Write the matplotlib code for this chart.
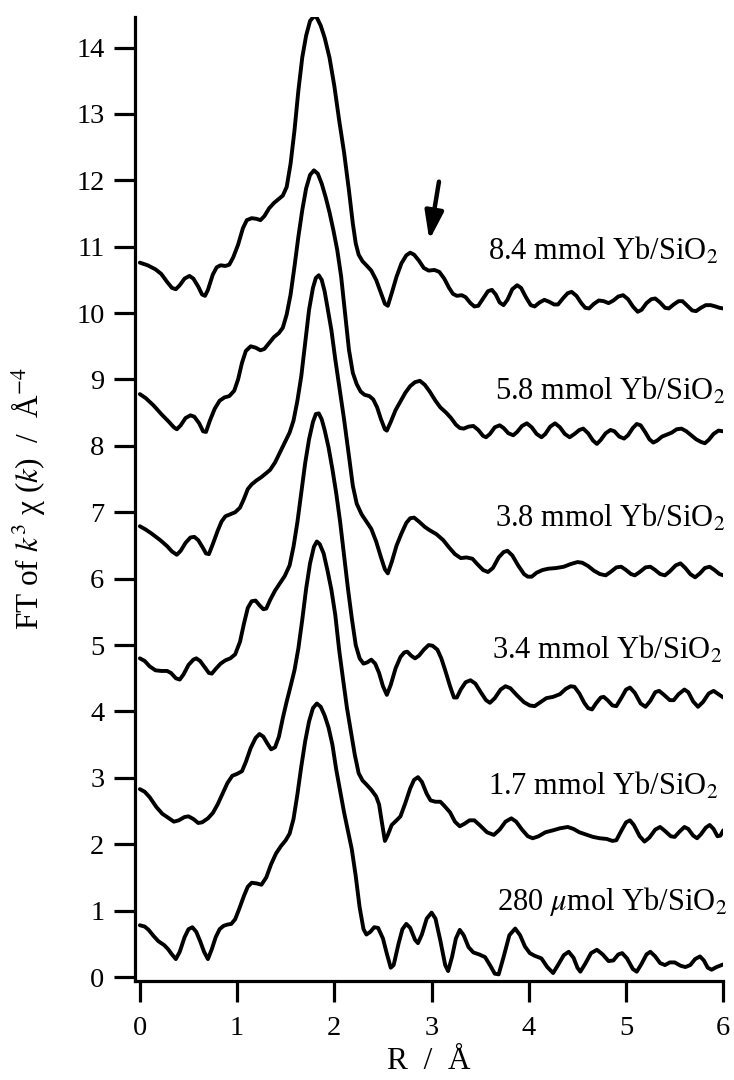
import matplotlib
matplotlib.use("Agg")
import matplotlib.pyplot as plt

plt.rcParams["font.family"] = ["Liberation Serif", "DejaVu Serif"]
plt.rcParams["mathtext.fontset"] = "stix"

# R / Å and FT magnitude (curves already offset)
r_84 = [0, 0.08, 0.16, 0.22, 0.28, 0.33, 0.37, 0.41, 0.46, 0.51, 0.55, 0.60, 0.64, 0.67, 0.70,
        0.75, 0.79, 0.83, 0.88, 0.92, 0.96, 1.01, 1.06, 1.10, 1.15, 1.20, 1.24, 1.28, 1.33,
        1.38, 1.43, 1.47, 1.51, 1.55, 1.59, 1.63, 1.67, 1.71, 1.75, 1.79, 1.82, 1.86, 1.90,
        1.95, 2.00, 2.05, 2.10, 2.15, 2.19, 2.22, 2.25, 2.29, 2.33, 2.38, 2.43, 2.48, 2.52,
        2.55, 2.59, 2.64, 2.69, 2.74, 2.78, 2.82, 2.87, 2.92, 2.97, 3.03, 3.08, 3.13, 3.18,
        3.22, 3.26, 3.31, 3.35, 3.40, 3.44, 3.48, 3.53, 3.58, 3.62, 3.66, 3.70, 3.74, 3.78,
        3.83, 3.88, 3.92, 3.97, 4.02, 4.06, 4.11, 4.16, 4.21, 4.26, 4.30, 4.35, 4.40, 4.44,
        4.49, 4.54, 4.58, 4.62, 4.67, 4.72, 4.77, 4.82, 4.87, 4.92, 4.97, 5.02, 5.07, 5.12,
        5.16, 5.21, 5.26, 5.30, 5.35, 5.40, 5.44, 5.49, 5.54, 5.58, 5.63, 5.68, 5.72, 5.77,
        5.82, 5.87, 5.92, 5.96, 6.00]
ft_84 = [10.76, 10.72, 10.66, 10.59, 10.47, 10.38, 10.36, 10.42, 10.52, 10.56, 10.52, 10.40,
         10.28, 10.26, 10.35, 10.58, 10.69, 10.72, 10.71, 10.73, 10.84, 11.03, 11.28, 11.40,
         11.43, 11.42, 11.40, 11.46, 11.58, 11.66, 11.72, 11.77, 11.90, 12.25, 12.75, 13.35,
         13.85, 14.18, 14.40, 14.47, 14.45, 14.33, 14.15, 13.85, 13.42, 12.90, 12.42, 11.85,
         11.35, 11.05, 10.88, 10.78, 10.72, 10.64, 10.50, 10.30, 10.14, 10.11, 10.30, 10.55,
         10.75, 10.87, 10.91, 10.88, 10.79, 10.68, 10.64, 10.65, 10.62, 10.52, 10.38, 10.29,
         10.26, 10.27, 10.24, 10.15, 10.10, 10.11, 10.22, 10.33, 10.35, 10.28, 10.16, 10.12,
         10.20, 10.36, 10.42, 10.38, 10.24, 10.12, 10.10, 10.16, 10.20, 10.17, 10.13, 10.13,
         10.22, 10.30, 10.32, 10.26, 10.15, 10.08, 10.07, 10.14, 10.19, 10.18, 10.15, 10.19,
         10.25, 10.27, 10.21, 10.10, 10.02, 10.05, 10.15, 10.21, 10.22, 10.16, 10.08, 10.07,
         10.13, 10.18, 10.18, 10.11, 10.04, 10.03, 10.08, 10.12, 10.12, 10.10, 10.08, 10.07]

r_58 = [0, 0.06, 0.14, 0.22, 0.30, 0.35, 0.38, 0.42, 0.47, 0.52, 0.56, 0.61, 0.65, 0.68, 0.72,
        0.77, 0.82, 0.87, 0.92, 0.97, 1.01, 1.05, 1.09, 1.14, 1.19, 1.24, 1.28, 1.33, 1.38,
        1.43, 1.47, 1.51, 1.55, 1.59, 1.63, 1.67, 1.71, 1.75, 1.79, 1.83, 1.87, 1.91, 1.95,
        1.99, 2.03, 2.07, 2.11, 2.15, 2.19, 2.23, 2.27, 2.31, 2.36, 2.40, 2.44, 2.48, 2.52,
        2.54, 2.58, 2.63, 2.68, 2.73, 2.78, 2.83, 2.88, 2.93, 2.98, 3.04, 3.09, 3.15, 3.20,
        3.25, 3.29, 3.33, 3.38, 3.43, 3.48, 3.53, 3.56, 3.60, 3.65, 3.70, 3.74, 3.79, 3.84,
        3.88, 3.93, 3.98, 4.03, 4.08, 4.13, 4.17, 4.22, 4.27, 4.32, 4.37, 4.42, 4.47, 4.52,
        4.56, 4.61, 4.66, 4.70, 4.74, 4.79, 4.84, 4.88, 4.93, 4.98, 5.02, 5.07, 5.11, 5.15,
        5.20, 5.24, 5.28, 5.32, 5.37, 5.42, 5.47, 5.52, 5.57, 5.62, 5.67, 5.72, 5.77, 5.81,
        5.85, 5.90, 5.95, 6.00]
ft_58 = [8.78, 8.72, 8.61, 8.48, 8.36, 8.28, 8.25, 8.31, 8.42, 8.46, 8.44, 8.34, 8.22, 8.21,
         8.38, 8.56, 8.68, 8.73, 8.75, 8.83, 9.00, 9.25, 9.43, 9.50, 9.48, 9.44, 9.46, 9.55,
         9.64, 9.70, 9.78, 9.98, 10.28, 10.70, 11.15, 11.55, 11.88, 12.08, 12.15, 12.10, 11.95,
         11.75, 11.52, 11.25, 10.95, 10.55, 10.00, 9.45, 9.10, 8.93, 8.82, 8.77, 8.75, 8.70,
         8.58, 8.40, 8.25, 8.23, 8.36, 8.54, 8.67, 8.80, 8.90, 8.96, 8.98, 8.92, 8.82, 8.68,
         8.58, 8.50, 8.42, 8.32, 8.27, 8.26, 8.29, 8.30, 8.24, 8.15, 8.13, 8.18, 8.28, 8.31,
         8.27, 8.19, 8.16, 8.21, 8.30, 8.34, 8.28, 8.18, 8.13, 8.18, 8.29, 8.34, 8.28, 8.18,
         8.13, 8.18, 8.24, 8.26, 8.19, 8.08, 8.03, 8.09, 8.19, 8.24, 8.22, 8.14, 8.11, 8.16,
         8.27, 8.33, 8.31, 8.20, 8.10, 8.05, 8.08, 8.14, 8.17, 8.20, 8.25, 8.26, 8.22, 8.16,
         8.10, 8.06, 8.04, 8.09, 8.18, 8.23, 8.22]

r_38 = [0, 0.06, 0.12, 0.21, 0.28, 0.33, 0.38, 0.42, 0.47, 0.52, 0.56, 0.60, 0.65, 0.68, 0.71,
        0.75, 0.80, 0.84, 0.88, 0.93, 0.98, 1.03, 1.07, 1.11, 1.15, 1.20, 1.25, 1.30, 1.34,
        1.39, 1.44, 1.49, 1.54, 1.58, 1.62, 1.66, 1.70, 1.74, 1.78, 1.81, 1.84, 1.87, 1.90,
        1.93, 1.97, 2.01, 2.05, 2.10, 2.15, 2.19, 2.23, 2.28, 2.33, 2.38, 2.43, 2.48, 2.52,
        2.55, 2.59, 2.64, 2.69, 2.74, 2.78, 2.82, 2.87, 2.93, 2.98, 3.05, 3.12, 3.18, 3.24,
        3.30, 3.36, 3.42, 3.47, 3.53, 3.58, 3.63, 3.69, 3.74, 3.78, 3.83, 3.89, 3.95, 3.99,
        4.03, 4.08, 4.14, 4.20, 4.28, 4.36, 4.43, 4.50, 4.55, 4.61, 4.67, 4.73, 4.79, 4.84,
        4.90, 4.95, 5.00, 5.05, 5.09, 5.14, 5.20, 5.25, 5.30, 5.35, 5.40, 5.45, 5.51, 5.56,
        5.61, 5.66, 5.71, 5.76, 5.81, 5.86, 5.91, 5.96, 6.00]
ft_38 = [6.79, 6.74, 6.68, 6.58, 6.49, 6.41, 6.36, 6.42, 6.54, 6.62, 6.63, 6.58, 6.46, 6.38,
         6.37, 6.52, 6.72, 6.86, 6.94, 6.97, 7.00, 7.07, 7.20, 7.35, 7.42, 7.48, 7.53, 7.59,
         7.64, 7.75, 7.90, 8.05, 8.20, 8.38, 8.68, 9.05, 9.55, 10.05, 10.38, 10.53, 10.57,
         10.50, 10.33, 10.08, 9.74, 9.30, 8.90, 8.40, 7.85, 7.40, 7.13, 6.97, 6.86, 6.75, 6.56,
         6.32, 6.14, 6.08, 6.25, 6.50, 6.68, 6.84, 6.91, 6.92, 6.86, 6.78, 6.73, 6.67, 6.58,
         6.47, 6.37, 6.31, 6.32, 6.30, 6.22, 6.13, 6.10, 6.16, 6.32, 6.40, 6.42, 6.35, 6.20,
         6.07, 6.03, 6.03, 6.09, 6.13, 6.15, 6.16, 6.18, 6.22, 6.25, 6.24, 6.19, 6.12, 6.07,
         6.05, 6.10, 6.17, 6.18, 6.13, 6.07, 6.05, 6.10, 6.17, 6.18, 6.13, 6.07, 6.05, 6.11,
         6.20, 6.23, 6.16, 6.07, 6.02, 6.08, 6.16, 6.18, 6.13, 6.07, 6.05]

r_34 = [0, 0.05, 0.10, 0.16, 0.22, 0.28, 0.32, 0.37, 0.41, 0.45, 0.50, 0.55, 0.58, 0.62, 0.67,
        0.71, 0.74, 0.78, 0.83, 0.88, 0.93, 0.98, 1.03, 1.07, 1.11, 1.15, 1.19, 1.23, 1.27,
        1.30, 1.34, 1.39, 1.44, 1.49, 1.54, 1.58, 1.62, 1.66, 1.70, 1.74, 1.78, 1.81, 1.84,
        1.87, 1.90, 1.94, 1.98, 2.02, 2.06, 2.10, 2.14, 2.18, 2.22, 2.26, 2.30, 2.34, 2.38,
        2.42, 2.46, 2.50, 2.54, 2.58, 2.63, 2.68, 2.72, 2.75, 2.79, 2.83, 2.87, 2.92, 2.97,
        3.01, 3.06, 3.10, 3.14, 3.19, 3.23, 3.26, 3.30, 3.35, 3.40, 3.45, 3.51, 3.56, 3.60,
        3.65, 3.71, 3.76, 3.81, 3.88, 3.95, 4.01, 4.06, 4.12, 4.18, 4.25, 4.32, 4.38, 4.43,
        4.47, 4.52, 4.57, 4.61, 4.65, 4.69, 4.74, 4.77, 4.81, 4.86, 4.90, 4.95, 5.00, 5.04,
        5.09, 5.15, 5.20, 5.25, 5.30, 5.34, 5.39, 5.45, 5.49, 5.54, 5.60, 5.64, 5.69, 5.74,
        5.79, 5.85, 5.90, 5.95, 6.00]
ft_34 = [4.80, 4.76, 4.68, 4.62, 4.61, 4.61, 4.58, 4.50, 4.48, 4.56, 4.70, 4.78, 4.80, 4.76,
         4.66, 4.58, 4.57, 4.64, 4.72, 4.77, 4.80, 4.86, 5.05, 5.32, 5.56, 5.66, 5.67, 5.60,
         5.54, 5.55, 5.68, 5.82, 5.93, 6.04, 6.20, 6.48, 6.85, 7.30, 7.74, 8.10, 8.36, 8.48,
         8.49, 8.40, 8.24, 7.98, 7.65, 7.28, 6.85, 6.35, 5.85, 5.40, 5.00, 4.80, 4.72, 4.74,
         4.78, 4.72, 4.58, 4.38, 4.25, 4.40, 4.65, 4.82, 4.89, 4.90, 4.84, 4.80, 4.84, 4.93,
         5.00, 4.99, 4.93, 4.80, 4.62, 4.38, 4.21, 4.21, 4.33, 4.44, 4.47, 4.42, 4.28, 4.17,
         4.13, 4.20, 4.33, 4.38, 4.35, 4.24, 4.14, 4.09, 4.08, 4.14, 4.20, 4.22, 4.26, 4.34,
         4.38, 4.37, 4.27, 4.13, 4.05, 4.03, 4.12, 4.21, 4.22, 4.17, 4.09, 4.08, 4.20, 4.33,
         4.36, 4.28, 4.12, 4.07, 4.16, 4.29, 4.31, 4.25, 4.17, 4.17, 4.26, 4.33, 4.29, 4.15,
         4.07, 4.14, 4.27, 4.31, 4.26, 4.21]

r_17 = [0, 0.05, 0.10, 0.17, 0.23, 0.29, 0.35, 0.40, 0.46, 0.50, 0.55, 0.60, 0.64, 0.70, 0.75,
        0.80, 0.85, 0.90, 0.95, 1.00, 1.05, 1.09, 1.14, 1.19, 1.23, 1.27, 1.31, 1.35, 1.39,
        1.43, 1.47, 1.51, 1.55, 1.59, 1.63, 1.67, 1.71, 1.75, 1.79, 1.82, 1.85, 1.89, 1.93,
        1.97, 2.01, 2.05, 2.09, 2.13, 2.17, 2.21, 2.25, 2.29, 2.33, 2.38, 2.43, 2.46, 2.49,
        2.52, 2.55, 2.59, 2.64, 2.68, 2.73, 2.78, 2.82, 2.86, 2.90, 2.95, 2.99, 3.04, 3.09,
        3.13, 3.19, 3.24, 3.29, 3.34, 3.39, 3.44, 3.50, 3.57, 3.64, 3.70, 3.76, 3.82, 3.87,
        3.93, 3.99, 4.04, 4.10, 4.17, 4.25, 4.32, 4.40, 4.46, 4.52, 4.58, 4.66, 4.73, 4.80,
        4.86, 4.90, 4.95, 5.00, 5.04, 5.08, 5.14, 5.19, 5.24, 5.30, 5.35, 5.40, 5.46, 5.50,
        5.55, 5.60, 5.64, 5.69, 5.73, 5.77, 5.82, 5.86, 5.90, 5.94, 5.97, 6.00]
ft_17 = [2.83, 2.79, 2.71, 2.56, 2.46, 2.40, 2.34, 2.36, 2.41, 2.42, 2.38, 2.32, 2.33, 2.39,
         2.47, 2.60, 2.76, 2.92, 3.03, 3.06, 3.10, 3.24, 3.45, 3.60, 3.66, 3.62, 3.52, 3.43,
         3.46, 3.62, 3.90, 4.15, 4.38, 4.62, 4.95, 5.38, 5.85, 6.23, 6.48, 6.56, 6.52, 6.38,
         6.12, 5.83, 5.45, 4.92, 4.48, 4.05, 3.70, 3.35, 3.07, 2.96, 2.90, 2.82, 2.72, 2.60,
         2.32, 2.05, 2.14, 2.29, 2.36, 2.42, 2.62, 2.84, 2.97, 3.01, 2.94, 2.76, 2.66, 2.64,
         2.64, 2.58, 2.48, 2.34, 2.27, 2.31, 2.36, 2.36, 2.28, 2.18, 2.14, 2.22, 2.34, 2.39,
         2.34, 2.22, 2.12, 2.09, 2.12, 2.18, 2.21, 2.24, 2.26, 2.23, 2.18, 2.15, 2.11, 2.09,
         2.08, 2.05, 2.06, 2.20, 2.33, 2.36, 2.29, 2.12, 2.04, 2.10, 2.22, 2.26, 2.20, 2.12,
         2.11, 2.19, 2.26, 2.23, 2.13, 2.09, 2.15, 2.25, 2.29, 2.23, 2.12, 2.13, 2.21]

r_028 = [0, 0.05, 0.09, 0.14, 0.19, 0.25, 0.29, 0.33, 0.37, 0.41, 0.46, 0.50, 0.54, 0.58, 0.62,
         0.66, 0.70, 0.74, 0.78, 0.82, 0.86, 0.90, 0.94, 0.98, 1.02, 1.07, 1.11, 1.15, 1.20,
         1.25, 1.30, 1.35, 1.40, 1.45, 1.50, 1.54, 1.58, 1.62, 1.66, 1.70, 1.74, 1.78, 1.82,
         1.86, 1.90, 1.94, 1.98, 2.02, 2.06, 2.10, 2.14, 2.18, 2.22, 2.26, 2.30, 2.33, 2.37,
         2.41, 2.45, 2.50, 2.54, 2.58, 2.61, 2.66, 2.70, 2.74, 2.78, 2.83, 2.86, 2.90, 2.95,
         3.00, 3.04, 3.09, 3.14, 3.17, 3.21, 3.25, 3.29, 3.33, 3.38, 3.43, 3.49, 3.55, 3.60,
         3.65, 3.69, 3.74, 3.80, 3.86, 3.91, 3.96, 4.01, 4.06, 4.13, 4.19, 4.25, 4.30, 4.36,
         4.41, 4.46, 4.50, 4.53, 4.58, 4.64, 4.70, 4.76, 4.82, 4.87, 4.92, 4.96, 5.01, 5.07,
         5.11, 5.16, 5.21, 5.25, 5.30, 5.35, 5.40, 5.45, 5.50, 5.56, 5.61, 5.66, 5.71, 5.76,
         5.80, 5.84, 5.88, 5.93, 6.00]
ft_028 = [0.78, 0.76, 0.71, 0.62, 0.54, 0.48, 0.42, 0.34, 0.27, 0.38, 0.60, 0.72, 0.75, 0.68,
          0.54, 0.38, 0.27, 0.42, 0.60, 0.72, 0.77, 0.79, 0.80, 0.87, 1.02, 1.22, 1.36, 1.42,
          1.41, 1.39, 1.50, 1.70, 1.86, 1.97, 2.06, 2.16, 2.38, 2.75, 3.17, 3.55, 3.85, 4.05,
          4.12, 4.07, 3.94, 3.76, 3.50, 3.12, 2.80, 2.48, 2.20, 1.92, 1.52, 1.05, 0.72, 0.64,
          0.68, 0.75, 0.74, 0.58, 0.35, 0.14, 0.18, 0.50, 0.72, 0.80, 0.74, 0.56, 0.51, 0.64,
          0.88, 0.97, 0.88, 0.55, 0.18, 0.09, 0.30, 0.58, 0.71, 0.63, 0.45, 0.37, 0.34, 0.30,
          0.18, 0.05, 0.04, 0.30, 0.63, 0.73, 0.63, 0.46, 0.36, 0.32, 0.28, 0.15, 0.06, 0.18,
          0.33, 0.38, 0.29, 0.14, 0.08, 0.20, 0.36, 0.41, 0.34, 0.24, 0.25, 0.34, 0.36, 0.28,
          0.12, 0.08, 0.20, 0.34, 0.38, 0.31, 0.21, 0.18, 0.22, 0.22, 0.17, 0.15, 0.18, 0.27,
          0.31, 0.25, 0.14, 0.11, 0.15, 0.19]

curves = [(r_84, ft_84), (r_58, ft_58), (r_38, ft_38), (r_34, ft_34), (r_17, ft_17), (r_028, ft_028)]

labels = [r"8.4 mmol Yb/SiO$_2$", r"5.8 mmol Yb/SiO$_2$", r"3.8 mmol Yb/SiO$_2$",
          r"3.4 mmol Yb/SiO$_2$", r"1.7 mmol Yb/SiO$_2$", r"280 $\mu$mol Yb/SiO$_2$"]
label_r = [5.95, 6.02, 6.02, 5.99, 5.95, 6.04]
label_ft = [10.80, 8.69, 6.78, 4.80, 2.74, 1.01]

fig = plt.figure(figsize=(7.34, 10.8), dpi=100)
ax = fig.add_axes([135 / 734, 99 / 1080, 588.3 / 734, 964 / 1080])

for r, ft in curves:
    ax.plot(r, ft, color="black", lw=2.8, solid_joinstyle="round", solid_capstyle="round")

for txt, x, y in zip(labels, label_r, label_ft):
    ax.text(x, y, txt, ha="right", va="baseline", fontsize=22)

# arrow pointing at the shoulder near 3 Å of the top curve
ax.annotate("", xy=(2.977, 11.10), xytext=(3.076, 11.98),
            arrowprops=dict(arrowstyle="-|>,head_length=0.85,head_width=0.28",
                            mutation_scale=20, lw=3.2, color="black",
                            shrinkA=0, shrinkB=0))

ax.set_xlim(-0.05, 6.0)
ax.set_ylim(-0.06, 14.46)
ax.set_xticks(range(0, 7))
ax.set_yticks(range(0, 15))
for s in ("top", "right"):
    ax.spines[s].set_visible(False)
for s in ("left", "bottom"):
    ax.spines[s].set_linewidth(2.3)
ax.tick_params(direction="out", length=15, width=2.3, labelsize=20.5)
ax.tick_params(axis="y", pad=7)
ax.tick_params(axis="x", pad=10)

ax.set_xlabel("R  /  Å", fontsize=22.5)
ax.xaxis.set_label_coords(0.5, -0.068)
ax.set_ylabel(r"FT of $k^3$ χ ($k$)  /  Å$^{-4}$", fontsize=22.5)
ax.yaxis.set_label_coords(-0.15, 0.5)

fig.savefig("out.png", dpi=100)
